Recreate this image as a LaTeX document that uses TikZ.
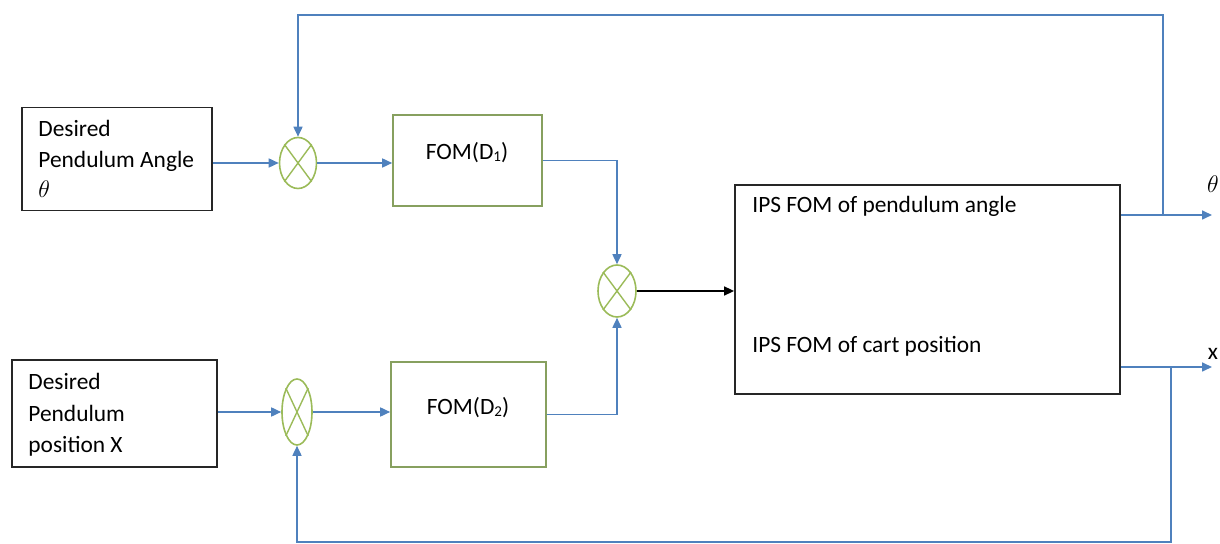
\documentclass[tikz,border=0pt]{standalone}
\usepackage{fontspec}
\setmainfont{Carlito}
\usetikzlibrary{arrows.meta,shapes.geometric}
\definecolor{sigblue}{RGB}{79,129,189}
\definecolor{sumgreen}{RGB}{155,187,89}
\definecolor{fomgreen}{RGB}{135,160,95}
\tikzset{
  every node/.style={font=\fontsize{11.7}{15}\selectfont},
  inbox/.style={draw=black!85, line width=0.9pt, rectangle, inner sep=0pt},
  txt/.style={anchor=base west, inner sep=0pt},
  fombox/.style={draw=fomgreen, line width=0.8pt, rectangle, inner sep=0pt},
  summer/.style={draw=sumgreen, line width=0.8pt, ellipse, inner sep=0pt},
  plantbox/.style={draw=black!85, line width=0.9pt, rectangle, inner sep=0pt},
  sig/.style={draw=sigblue, line width=0.8pt, -{Triangle[length=5pt,width=4.5pt]}},
  blk/.style={draw=black, line width=0.8pt, -{Triangle[length=5pt,width=4.5pt]}},
}
\newcommand{\crossout}[1]{%
  \draw[sumgreen, line width=0.7pt] (#1.north west) -- (#1.south east)
                                    (#1.north east) -- (#1.south west);}
\newcommand{\lowidx}[1]{\raisebox{-0.6pt}{\fontsize{7.5}{8}\selectfont #1}}
\begin{document}
\begin{tikzpicture}[x=0.5pt, y=-0.5pt]
  \useasboundingbox (0,0) rectangle (1220,544);

  % reference inputs
  \node[inbox, minimum width=95pt, minimum height=51.5pt] (b1) at (117,159) {};
  \node[txt] (b1a) at (38,137) {Desired};
  \node[txt] (b1b) at (38,168) {Pendulum Angle};
  \node[txt] (b1c) at (38,198) {$\theta$};
  \node[inbox, minimum width=102.5pt, minimum height=53.5pt] (b2) at (114.5,413.5) {};
  \node[txt] (b2a) at (28,390) {Desired};
  \node[txt] (b2b) at (28,422) {Pendulum};
  \node[txt] (b2c) at (28,453) {position X};

  % summing junctions
  \node[summer, minimum width=18.5pt, minimum height=25.5pt] (s1) at (298,163) {};
  \node[summer, minimum width=15pt, minimum height=33pt] (s2) at (297,412) {};
  \node[summer, minimum width=19pt, minimum height=26pt] (s3) at (617,291) {};
  \crossout{s1}
  \crossout{s2}
  \crossout{s3}

  % controllers
  \node[fombox, minimum width=74.5pt, minimum height=45.5pt] (f1) at (467.5,160.5) {};
  \node[fombox, minimum width=77.5pt, minimum height=52.5pt] (f2) at (468.5,414.5) {};
  \node (f1t) at (467,153) {FOM(D\lowidx{1})};
  \node (f2t) at (468,408) {FOM(D\lowidx{2})};

  % plant
  \node[plantbox, minimum width=192.5pt, minimum height=104.5pt] (ips) at (927.5,289.5) {};
  \node[txt] (ipsa) at (752,213) {IPS FOM of pendulum angle};
  \node[txt] (ipsx) at (752,353) {IPS FOM of cart position};

  % outputs and feedback taps
  \coordinate (thEnd) at (1212,215);
  \coordinate (xEnd) at (1212,367);
  \coordinate (tapT) at (1163,215);
  \coordinate (tapX) at (1171,367);
  \coordinate (topR) at (1163,15);
  \coordinate (botR) at (1171,542);
  \node[anchor=base, inner sep=0pt] (thl) at (1213,193) {$\theta$};
  \node[anchor=base, inner sep=0pt] (xl) at (1213,360) {x};

  % forward paths
  \draw[sig] (s1.west -| b1.east) -- (s1.west);
  \draw[sig] (s1.east) -- (s1.east -| f1.west);
  \draw[sig] (f1.east) -| (s3.north);
  \draw[sig] (s2.west -| b2.east) -- (s2.west);
  \draw[sig] (s2.east) -- (s2.east -| f2.west);
  \draw[sig] (f2.east) -| (s3.south);
  \draw[blk] (s3.east) -- (s3.east -| ips.west);

  % outputs
  \draw[sig] (ips.east |- thEnd) -- (thEnd);
  \draw[sig] (ips.east |- xEnd) -- (xEnd);

  % feedback loops
  \draw[sig] (tapT) -- (topR) -| (s1.north);
  \draw[sig] (tapX) -- (botR) -| (s2.south);
\end{tikzpicture}
\end{document}
